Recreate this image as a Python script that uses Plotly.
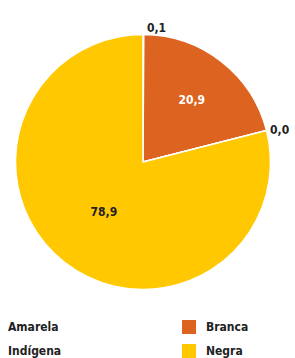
import plotly.graph_objects as go

labels = ["Amarela", "Branca", "Indígena", "Negra"]
values = [0.1, 20.9, 0.0, 78.9]
text_labels = ["0,1", "20,9", "0,0", "78,9"]
colors = ["#FFFFFF", "#DC6420", "#FFFFFF", "#FFC800"]
text_colors = ["#222222", "#FFFFFF", "#222222", "#222222"]
text_positions = ["outside", "inside", "outside", "inside"]

FONT = "DejaVu Sans Condensed, Liberation Sans Narrow, sans-serif"
W, H = 295, 358

fig = go.Figure(
    go.Pie(
        labels=labels,
        values=values,
        text=text_labels,
        textinfo="text",
        textposition=text_positions,
        sort=False,
        direction="clockwise",
        rotation=0,
        marker=dict(colors=colors, line=dict(color="#FFFFFF", width=1.5)),
        textfont=dict(family=FONT, size=12, color=text_colors, weight="bold"),
        insidetextorientation="horizontal",
        hoverinfo="label+text",
        showlegend=False,
        domain=dict(x=[15.5 / W, 270.5 / W], y=[68.5 / H, 323.5 / H]),
    )
)

# Legend drawn as text + key squares (two columns)
legend_font = dict(family=FONT, size=12, color="#222222", weight="bold")
legend_items = [
    # (label index, text x px, row center y px, show key)
    (0, 6, 327, False),
    (2, 6, 351, False),
    (1, 204, 327, True),
    (3, 204, 351, True),
]
for idx, tx, ty, key in legend_items:
    fig.add_annotation(
        text=labels[idx], x=tx / W, y=(H - ty) / H, xref="paper", yref="paper",
        xanchor="left", yanchor="middle", showarrow=False, font=legend_font,
    )
    if key:
        fig.add_shape(
            type="rect", xref="paper", yref="paper",
            x0=182 / W, x1=196 / W, y0=(H - ty - 7) / H, y1=(H - ty + 7) / H,
            fillcolor=colors[idx], line=dict(width=0),
        )

fig.update_layout(
    width=W,
    height=H,
    margin=dict(l=0, r=0, t=0, b=0, autoexpand=False),
    paper_bgcolor="#FFFFFF",
    plot_bgcolor="#FFFFFF",
    showlegend=False,
)

fig.write_html(
    "out.html",
    config={"displayModeBar": False},
    post_script="document.body.style.margin='0';",
)
